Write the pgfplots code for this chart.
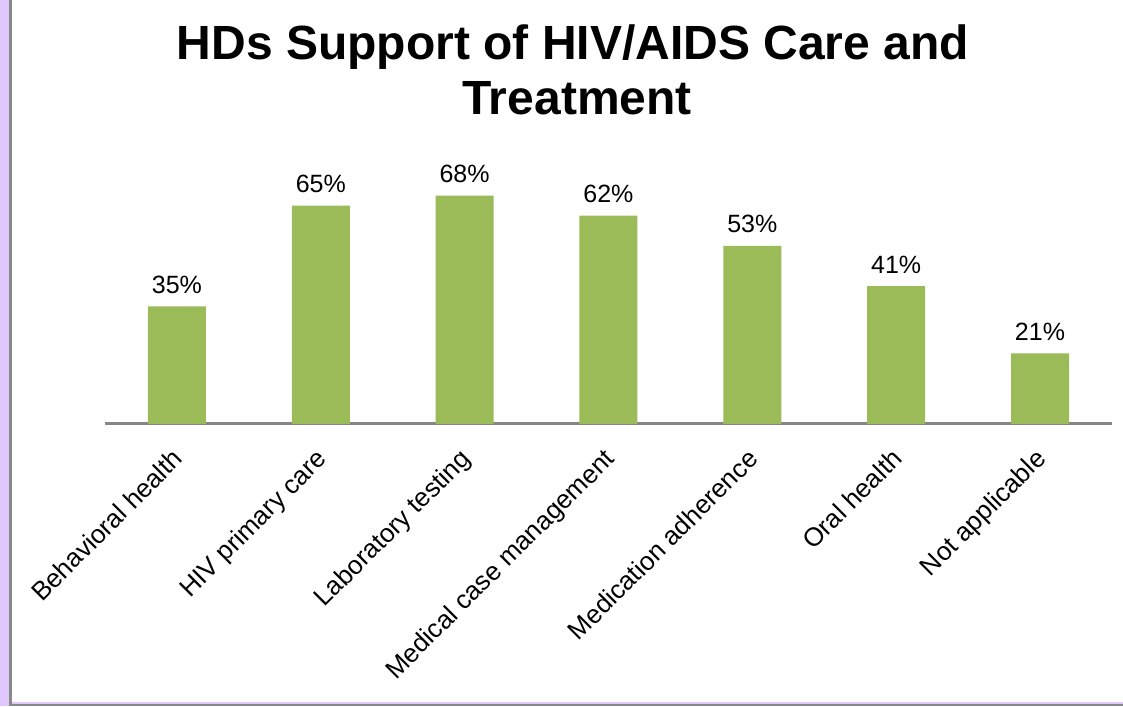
\documentclass[border=0pt]{standalone}
\usepackage{fontspec}
\setmainfont{Liberation Sans}
\usepackage{pgfplots}
\pgfplotsset{compat=1.18}
\definecolor{barg}{HTML}{9BBB59}
\definecolor{lav}{HTML}{E0C8FF}
\definecolor{frm}{HTML}{898989}
\definecolor{axl}{HTML}{868686}
\begin{document}
\begin{tikzpicture}[x=1pt,y=1pt]
\useasboundingbox (0,0) rectangle (1123,706);
\fill[white] (0,0) rectangle (1123,706);
\fill[lav] (0,0) rectangle (9,706);
\fill[frm] (9,0) rectangle (12,706);
\fill[lav] (12,2) rectangle (1123,4);
\fill[frm] (9,0) rectangle (1123,2);
\node[font=\bfseries\fontsize{48}{55}\selectfont, anchor=base, inner sep=0pt] at (573,646) {HDs Support of HIV/AIDS Care and};
\node[font=\bfseries\fontsize{48}{55}\selectfont, anchor=base, inner sep=0pt] at (577,591) {Treatment};
\begin{axis}[
  at={(105pt,282pt)}, anchor=south west,
  scale only axis, width=1007pt, height=252pt,
  xmin=-0.5, xmax=6.5, ymin=0, ymax=75,
  axis y line=none, axis x line=bottom,
  x axis line style={axl, line width=3pt, -},
  xtick={0,...,6},
  xticklabels={Behavioral health, HIV primary care, Laboratory testing, Medical case management, Medication adherence, Oral health, Not applicable},
  major tick length=0pt, ytick=\empty,
  xticklabel style={xshift=-6pt, yshift=-23pt, rotate=45, anchor=north east, inner sep=0pt, font=\fontsize{26}{30}\selectfont},
  /pgf/number format/assume math mode=true,
  ybar, bar width=58pt,
  nodes near coords={\pgfmathprintnumber{\pgfplotspointmeta}\%},
  nodes near coords style={font=\fontsize{25}{30}\selectfont, anchor=base, inner sep=0pt, yshift=13pt, black},
  clip=false,
]
\addplot[fill=barg, draw=none] coordinates {(0,35) (1,65) (2,68) (3,62) (4,53) (5,41) (6,21)};
\end{axis}
\end{tikzpicture}
\end{document}
